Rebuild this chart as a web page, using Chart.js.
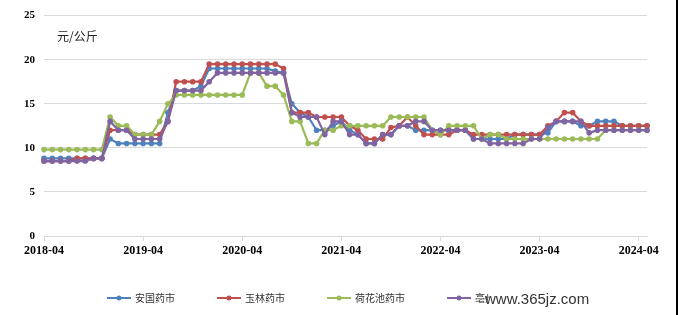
<!DOCTYPE html>
<html>
<head>
<meta charset="utf-8">
<script src="https://cdn.jsdelivr.net/npm/chart.js@4.4.0/dist/chart.umd.min.js"></script>
<style>
  html, body { margin: 0; padding: 0; background: #fff; }
  canvas { display: block; }
</style>
</head>
<body>
<canvas id="priceChart" width="678" height="315"></canvas>
<script>
const seriesNames = ['安国药市', '玉林药市', '荷花池药市', '亳州药市'];
const seriesColors = ['#4f81bd', '#c0504d', '#9bbb59', '#8064a2'];

// monthly prices, 2018-04 .. 2024-05
const anguo = [8.8, 8.8, 8.8, 8.8, 8.8, 8.8, 8.8, 8.8, 11, 10.5, 10.5, 10.5, 10.5, 10.5, 10.5, 14, 16.5, 16.5, 16.5, 17,
  19, 19, 19, 19, 19, 19, 19, 19, 18.7, 18.5,
  15, 14, 13.5, 12, 12, 12.5, 13, 12, 11.5, 10.5,
  10.5, 11.5, 11.5, 12.5, 12.5, 12, 12, 12, 12, 12,
  12, 12, 11, 11, 11, 11, 11, 11.5, 11.5, 11.5,
  11.5, 11.7, 13, 13, 13, 12.5, 12.5, 13, 13, 13,
  12.5, 12.5, 12.5, 12.5];
const yulin = [8.5, 8.5, 8.5, 8.5, 8.8, 8.8, 8.8, 8.8, 12, 12, 12, 11.5, 11.5, 11.5, 11.5, 13, 17.5, 17.5, 17.5, 17.5,
  19.5, 19.5, 19.5, 19.5, 19.5, 19.5, 19.5, 19.5, 19.5, 19,
  14, 14, 14, 13.5, 13.5, 13.5, 13.5, 12.5, 12, 11,
  11, 11, 12.3, 12.5, 13.5, 12.5, 11.5, 11.5, 11.5, 11.5,
  12, 12, 11.5, 11.5, 11.5, 11.5, 11.5, 11.5, 11.5, 11.5,
  11.5, 12.5, 13, 14, 14, 13, 12.5, 12.5, 12.5, 12.5,
  12.5, 12.5, 12.5, 12.5];
const hehuachi = [9.8, 9.8, 9.8, 9.8, 9.8, 9.8, 9.8, 9.8, 13.5, 12.5, 12.5, 11.5, 11.5, 11.5, 13, 15, 16, 16, 16, 16,
  16, 16, 16, 16, 16, 18.5, 18.5, 17, 17, 16,
  13, 13, 10.5, 10.5, 12, 12, 12.5, 12.5, 12.5, 12.5,
  12.5, 12.5, 13.5, 13.5, 13.5, 13.5, 13.5, 12, 11.5, 12.5,
  12.5, 12.5, 12.5, 11, 11.5, 11.5, 11, 11, 11, 11,
  11, 11, 11, 11, 11, 11, 11, 11, 12, 12,
  12, 12, 12, 12];
const bozhou = [8.5, 8.5, 8.5, 8.5, 8.5, 8.5, 8.8, 8.8, 13, 12, 12, 11, 11, 11, 11, 13, 16.5, 16.5, 16.5, 16.5,
  17.5, 18.5, 18.5, 18.5, 18.5, 18.5, 18.5, 18.5, 18.5, 18.5,
  14, 13.5, 13.5, 13.5, 11.5, 13, 13, 11.5, 11.5, 10.5,
  10.5, 11.5, 11.5, 12.5, 12.5, 13, 13, 12, 12, 12,
  12, 12, 11, 11, 10.5, 10.5, 10.5, 10.5, 10.5, 11,
  11, 12.3, 13, 13, 13, 13, 11.7, 12, 12, 12,
  12, 12, 12, 12];

const months = [];
for (let y = 2018, m = 4; months.length < anguo.length; m++) {
  if (m > 12) { m = 1; y++; }
  months.push(y + '-' + String(m).padStart(2, '0'));
}

const yTicks = [0, 5, 10, 15, 20, 25];
const unitLabel = '元/公斤';
const watermark = 'www.365jz.com';

const allSeries = [anguo, yulin, hehuachi, bozhou];

// unit text, hand-drawn legend, watermark, right border
const extras = {
  id: 'extras',
  afterDraw(chart) {
    const ctx = chart.ctx;
    const area = chart.chartArea;
    ctx.save();
    ctx.font = '12px "Noto Sans CJK SC"';
    ctx.fillStyle = '#222';
    ctx.textBaseline = 'middle';
    ctx.fillText(unitLabel, area.left + 13, chart.scales.y.getPixelForValue(22.6));

    let x = 107;
    const y = 298;
    ctx.font = '10px "Noto Sans CJK SC"';
    chart.data.datasets.forEach(ds => {
      ctx.strokeStyle = ds.borderColor;
      ctx.lineWidth = 2;
      ctx.beginPath();
      ctx.moveTo(x, y);
      ctx.lineTo(x + 24, y);
      ctx.stroke();
      ctx.fillStyle = ds.borderColor;
      ctx.beginPath();
      ctx.arc(x + 12, y, 2.5, 0, Math.PI * 2);
      ctx.fill();
      ctx.fillStyle = '#333';
      ctx.fillText(ds.label, x + 28, y);
      x += 28 + ctx.measureText(ds.label).width + 42;
    });

    ctx.fillStyle = '#fff';
    ctx.fillRect(489, 289, 106, 20);
    ctx.font = '15px "Liberation Sans"';
    ctx.fillStyle = '#333';
    ctx.fillText(watermark, 485, 300);

    ctx.fillStyle = '#000';
    ctx.fillRect(676, 0, 2, chart.height);
    ctx.restore();
  }
};

new Chart(document.getElementById('priceChart'), {
  type: 'line',
  data: {
    labels: months,
    datasets: allSeries.map((data, i) => ({
      label: seriesNames[i],
      data: data,
      order: allSeries.length - i, // later series painted on top, like the original
      borderColor: seriesColors[i],
      backgroundColor: seriesColors[i],
      borderWidth: 2.2,
      pointRadius: 2.8,
      pointBorderWidth: 0,
      tension: 0,
      fill: false
    }))
  },
  options: {
    responsive: false,
    animation: false,
    devicePixelRatio: 1,
    layout: { padding: { left: 14, right: 31, top: 13, bottom: 57 } },
    plugins: {
      legend: { display: false },
      tooltip: { enabled: false }
    },
    scales: {
      x: {
        type: 'category',
        offset: false,
        afterBuildTicks: scale => {
          scale.ticks = scale.ticks.filter(t => t.value % 12 === 0);
        },
        afterFit: scale => { scale.height = 22; },
        grid: { drawOnChartArea: false, drawTicks: true, tickLength: 5, color: '#d9d9d9' },
        border: { color: '#d9d9d9' },
        ticks: {
          autoSkip: false,
          maxRotation: 0,
          padding: 3,
          color: '#000',
          font: { family: '"Liberation Serif"', size: 12, weight: 'bold' }
        }
      },
      y: {
        min: 0,
        max: 25,
        afterBuildTicks: scale => {
          scale.ticks = yTicks.map(v => ({ value: v }));
        },
        afterFit: scale => { scale.width = 30; },
        grid: { color: '#d9d9d9', drawTicks: false },
        border: { display: false },
        ticks: {
          padding: 9,
          color: '#000',
          font: { family: '"Liberation Serif"', size: 11, weight: 'bold' }
        }
      }
    }
  },
  plugins: [extras]
});
</script>
</body>
</html>
